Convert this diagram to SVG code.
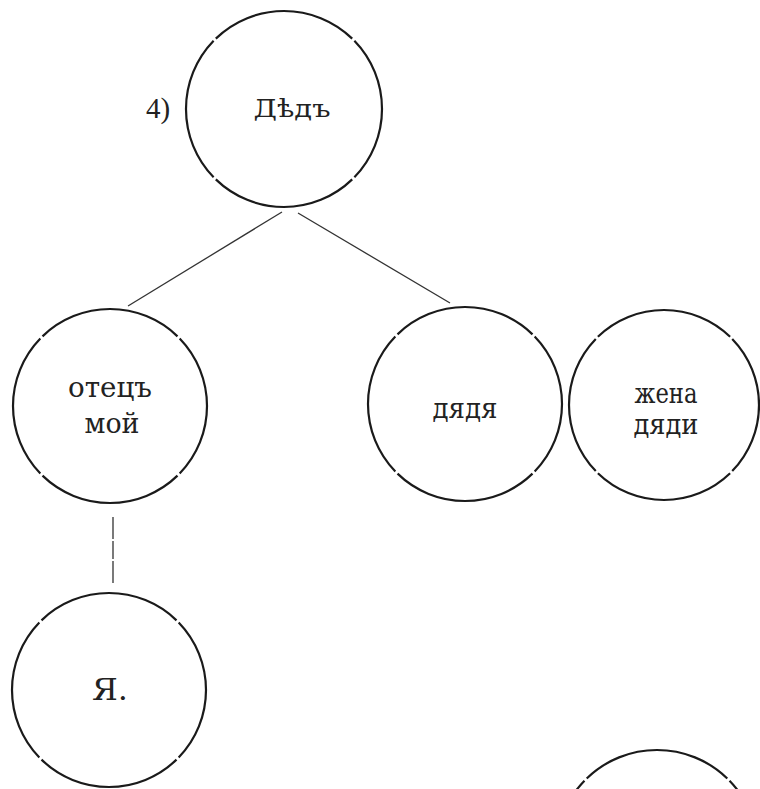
<svg xmlns="http://www.w3.org/2000/svg" width="760" height="789" viewBox="0 0 760 789">
<style>
.n{fill:none;stroke:#1a1a1a;stroke-width:2.2;stroke-dasharray:0.98 0.02;stroke-dashoffset:0.49}
.c{stroke:#333;stroke-width:1.3;fill:none}
.t{font-family:"DejaVu Serif","Liberation Serif",serif;fill:#222;text-anchor:middle}
</style>
<rect width="760" height="789" fill="#fff"/>
<g id="connectors">
<line class="c" x1="282" y1="212" x2="128" y2="306"/>
<line class="c" x1="298" y1="213" x2="450" y2="303"/>
<line class="c" x1="113" y1="517" x2="113" y2="583" stroke-dasharray="22 2 18 2 22"/>
</g>
<g id="label4"><text x="158" y="118" font-family="Liberation Serif,serif" font-size="29" fill="#222" text-anchor="middle">4)</text></g>
<g id="ded">
<circle class="n" cx="284" cy="109" r="98" pathLength="4"/>
<text class="t" x="292" y="117" font-size="25" textLength="77" lengthAdjust="spacingAndGlyphs">Дѣдъ</text>
</g>
<g id="otets">
<circle class="n" cx="110" cy="406" r="97" pathLength="4"/>
<text class="t" x="110" y="397" font-size="27" textLength="84" lengthAdjust="spacingAndGlyphs">отецъ</text>
<text class="t" x="112" y="433" font-size="27" textLength="55" lengthAdjust="spacingAndGlyphs">мой</text>
</g>
<g id="dyadya">
<circle class="n" cx="465" cy="404" r="97" pathLength="4"/>
<text class="t" x="465" y="418" font-size="27" textLength="65" lengthAdjust="spacingAndGlyphs">дядя</text>
</g>
<g id="zhena">
<circle class="n" cx="664" cy="405" r="95" pathLength="4"/>
<text class="t" x="666" y="403" font-size="27" textLength="63" lengthAdjust="spacingAndGlyphs">жена</text>
<text class="t" x="666" y="434" font-size="27" textLength="65" lengthAdjust="spacingAndGlyphs">дяди</text>
</g>
<g id="ya">
<circle class="n" cx="109" cy="690" r="97" pathLength="4"/>
<text class="t" x="110" y="700" font-size="30" textLength="36" lengthAdjust="spacingAndGlyphs">Я.</text>
</g>
<g id="partial">
<circle class="n" cx="657" cy="851" r="101" pathLength="4"/>
</g>
</svg>
